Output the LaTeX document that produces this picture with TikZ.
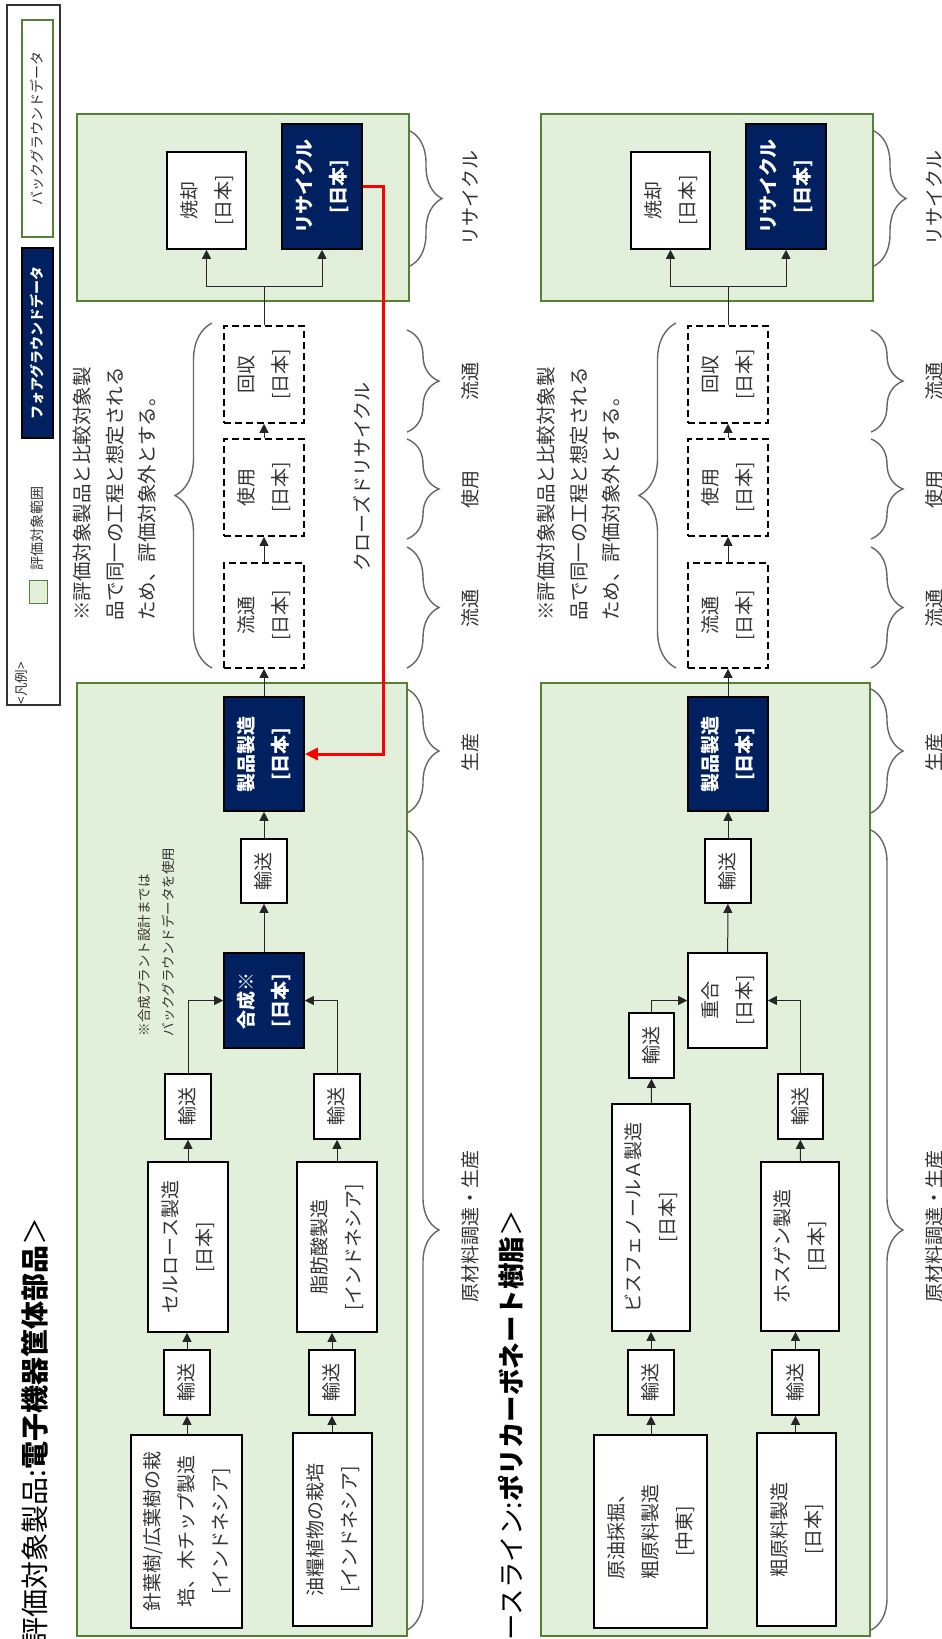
\documentclass[tikz,border=0pt]{standalone}
\usepackage{fontspec}
\usepackage{graphicx}
\setmainfont{Noto Sans CJK JP}
\usetikzlibrary{arrows.meta,decorations.pathreplacing}
\definecolor{navy}{HTML}{002060}
\definecolor{pfill}{HTML}{E2EFDA}
\definecolor{pgreen}{HTML}{548235}
\definecolor{txt}{HTML}{333333}
\newcommand\rt[1]{\rotatebox{90}{\begin{tabular}{@{}c@{}}#1\end{tabular}}}
\newcommand\bx[7]{\node[#6, minimum width=#4pt, minimum height=#5pt] (#1) at (#2,#3) {\rt{#7}};}
\begin{document}
\begin{tikzpicture}[x=1pt,y=-1pt,
 panel/.style={draw=pgreen,fill=pfill,line width=2pt},
 wbox/.style={draw=black,fill=white,line width=1.6pt,inner sep=0pt,font=\fontsize{19}{34}\selectfont,text=txt},
 nbox/.style={wbox,fill=navy,text=white,font=\fontsize{19}{34}\selectfont\bfseries},
 dbox/.style={wbox,dash pattern=on 7pt off 4pt},
 arr/.style={-{Triangle[length=9pt,width=9pt]},line width=1pt,draw=black!85},
 ln/.style={line width=1pt,draw=black!85},
 redarr/.style={-{Triangle[length=13pt,width=12pt]},line width=3pt,draw=red},
 brc/.style={decorate,decoration={brace,amplitude=32pt},draw=black!60,line width=1.4pt},
 lab/.style={rotate=90,inner sep=0pt,font=\fontsize{19}{24}\selectfont,text=txt},
 note/.style={rotate=90,inner sep=0pt,align=left,font=\fontsize{19.5}{32.5}\selectfont,text=txt},
 snote/.style={rotate=90,inner sep=0pt,align=left,font=\fontsize{13.5}{24}\selectfont,text=txt},
 ttl/.style={rotate=90,inner sep=0pt,anchor=east,font=\fontsize{28}{30}\selectfont,text=black},
 lgd/.style={inner sep=0pt,line width=1.4pt,font=\fontsize{14}{16}\selectfont}
]
\clip (0,0) rectangle (942,1639);
\fill[white] (0,0) rectangle (942,1639);

% ---------- legend ----------
\draw[line width=1.2pt,draw=black!80] (7,5) rectangle (60,705);
\node[lgd,draw=pgreen,fill=white,text=txt,minimum width=31pt,minimum height=217pt] (lbg) at (37.5,128.5) {\rotatebox{90}{バックグラウンドデータ}};
\node[lgd,draw=black,fill=navy,text=white,font=\fontsize{14}{16}\selectfont\bfseries,minimum width=31pt,minimum height=190pt] (lfg) at (37.5,343) {\rotatebox{90}{フォアグラウンドデータ}};
\node[lab,font=\fontsize{14}{16}\selectfont] (lsc) at (37,528) {評価対象範囲};
\node[lgd,draw=pgreen,fill=pfill,minimum width=18pt,minimum height=23pt] (lsq) at (38.5,592) {};
\node[lab,font=\fontsize{13.5}{16}\selectfont] (lhd) at (21,683) {<凡例>};

% ---------- titles ----------
\node[ttl] (t1) at (35,1217) {評価対象製品:{\bfseries 電子機器筐体部品}＞};
\node[ttl,font=\fontsize{26.5}{30}\selectfont] (t2) at (511,1210) {ベースライン:{\bfseries ポリカーボネート樹脂}＞};

% ---------- panels ----------
\draw[panel] (77,114) rectangle (409,301);
\draw[panel] (77,683) rectangle (407,1636);
\draw[panel] (541,114) rectangle (873,301);
\draw[panel] (541,683) rectangle (870,1636);

% ---------- panel A boxes ----------
\bx{incA}{206.5}{200.5}{79}{97}{wbox}{焼却\\{}[日本]}
\bx{recA}{322}{186.5}{80}{125}{nbox}{リサイクル\\{}[日本]}
\bx{kaiA}{264}{374.5}{80}{97}{dbox}{回収\\{}[日本]}
\bx{shiA}{264}{487.5}{80}{97}{dbox}{使用\\{}[日本]}
\bx{ryuA}{264}{615.5}{80}{105}{dbox}{流通\\{}[日本]}
\bx{seiA}{264}{754}{80}{114}{nbox}{製品製造\\{}[日本]}
\bx{yuA}{264}{871}{46}{64}{wbox}{輸送}
\bx{gosA}{264}{1000.5}{80}{95}{nbox}{合成※\\{}[日本]}
\bx{yL1A}{188}{1106.5}{46}{65}{wbox}{輸送}
\bx{yR1A}{337}{1106.5}{46}{65}{wbox}{輸送}
\bx{celA}{188}{1247}{80}{170}{wbox}{セルロース製造\\{}[日本]}
\bx{fatA}{337}{1247}{80}{170}{wbox}{脂肪酸製造\\{}[インドネシア]}
\bx{yL2A}{187}{1382.5}{46}{65}{wbox}{輸送}
\bx{yR2A}{332}{1382.5}{46}{65}{wbox}{輸送}
\bx{treeA}{186.5}{1531.5}{111}{193}{wbox}{針葉樹/広葉樹の栽\\培、木チップ製造\\{}[インドネシア]}
\bx{oilA}{332.5}{1529.5}{79}{193}{wbox}{油糧植物の栽培\\{}[インドネシア]}

% ---------- panel B boxes ----------
\bx{incB}{670.5}{200.5}{79}{97}{wbox}{焼却\\{}[日本]}
\bx{recB}{786}{186.5}{80}{125}{nbox}{リサイクル\\{}[日本]}
\bx{kaiB}{728}{374.5}{80}{97}{dbox}{回収\\{}[日本]}
\bx{shiB}{728}{487.5}{80}{97}{dbox}{使用\\{}[日本]}
\bx{ryuB}{728}{615.5}{80}{105}{dbox}{流通\\{}[日本]}
\bx{seiB}{728}{754}{80}{114}{nbox}{製品製造\\{}[日本]}
\bx{yuB}{728}{871}{46}{64}{wbox}{輸送}
\bx{jugB}{727.5}{1000.5}{79}{95}{wbox}{重合\\{}[日本]}
\bx{yL1B}{651.5}{1045.5}{45}{65}{wbox}{輸送}
\bx{yR1B}{800.5}{1106.5}{45}{65}{wbox}{輸送}
\bx{bisB}{651}{1217.5}{78}{227}{wbox}{ビスフェノールＡ製造\\{}[日本]}
\bx{phoB}{800}{1246.5}{78}{169}{wbox}{ホスゲン製造\\{}[日本]}
\bx{yL2B}{651}{1382.5}{46}{65}{wbox}{輸送}
\bx{yR2B}{795.5}{1382.5}{47}{65}{wbox}{輸送}
\bx{cruB}{650.5}{1531.5}{113}{193}{wbox}{原油採掘、\\粗原料製造\\{}[中東]}
\bx{napB}{796.5}{1529.5}{79}{193}{wbox}{粗原料製造\\{}[日本]}

% ---------- connectors A ----------
\coordinate (jA) at (264,286);
\draw[ln] (kaiA) -- (jA);
\draw[arr] (jA) -| (incA);
\draw[arr] (jA) -| (recA);
\draw[arr] (shiA) -- (kaiA);
\draw[arr] (ryuA) -- (shiA);
\draw[arr] (seiA) -- (ryuA);
\draw[arr] (yuA) -- (seiA);
\draw[arr] (gosA) -- (yuA);
\draw[arr] (yL1A) |- (gosA);
\draw[arr] (yR1A) |- (gosA);
\draw[arr] (celA) -- (yL1A);
\draw[arr] (fatA) -- (yR1A);
\draw[arr] (yL2A.north) -- (yL2A.north |- celA.south);
\draw[arr] (yR2A.north) -- (yR2A.north |- fatA.south);
\draw[arr] (treeA.north -| yL2A) -- (yL2A);
\draw[arr] (oilA.north -| yR2A) -- (yR2A);
\coordinate (rc1) at (383,186.5);
\coordinate (rc2) at (383,754);
\draw[redarr] (recA.east) -- (rc1) -- (rc2) -- (seiA.east);

% ---------- connectors B ----------
\coordinate (jB) at (728,286);
\draw[ln] (kaiB) -- (jB);
\draw[arr] (jB) -| (incB);
\draw[arr] (jB) -| (recB);
\draw[arr] (shiB) -- (kaiB);
\draw[arr] (ryuB) -- (shiB);
\draw[arr] (seiB) -- (ryuB);
\draw[arr] (yuB) -- (seiB);
\draw[arr] (jugB) -- (yuB);
\draw[arr] (yL1B) |- (jugB);
\draw[arr] (yR1B) |- (jugB);
\draw[arr] (bisB) -- (yL1B);
\draw[arr] (phoB) -- (yR1B);
\draw[arr] (yL2B) -- (bisB);
\draw[arr] (yR2B.north) -- (yR2B.north |- phoB.south);
\draw[arr] (cruB.north -| yL2B) -- (yL2B);
\draw[arr] (napB.north -| yR2B) -- (yR2B);

% ---------- notes ----------
\node[note] (nA) at (115,494) {※評価対象製品と比較対象製\\品で同一の工程と想定される\\ため、評価対象外とする。};
\node[note] (nB) at (579,494) {※評価対象製品と比較対象製\\品で同一の工程と想定される\\ため、評価対象外とする。};
\node[lab] (cl) at (362,477) {クローズドリサイクル};
\node[snote] (sn) at (156,942) {※合成プラント設計までは\\バックグラウンドデータを使用};

% ---------- braces ----------
\draw[brc,decoration={amplitude=37pt}] (212,668) -- (212,323);
\draw[brc,decoration={amplitude=37pt}] (676,668) -- (676,323);
\foreach \dx/\s in {0/A,464/B}{
 \draw[brc] (410+\dx,131) -- (410+\dx,266);
 \draw[brc] (407+\dx,330) -- (407+\dx,432);
 \draw[brc] (407+\dx,439) -- (407+\dx,539);
 \draw[brc] (407+\dx,547) -- (407+\dx,668);
 \draw[brc] (407+\dx,689) -- (407+\dx,813);
 \draw[brc] (407+\dx,830) -- (407+\dx,1630);
 \node[lab] (l1\s) at (470+\dx,198) {リサイクル};
 \node[lab] (l2\s) at (470+\dx,381) {流通};
 \node[lab] (l3\s) at (470+\dx,489) {使用};
 \node[lab] (l4\s) at (470+\dx,608) {流通};
 \node[lab] (l5\s) at (470+\dx,752) {生産};
 \node[lab] (l6\s) at (470+\dx,1226) {原材料調達・生産};
}
\end{tikzpicture}
\end{document}
